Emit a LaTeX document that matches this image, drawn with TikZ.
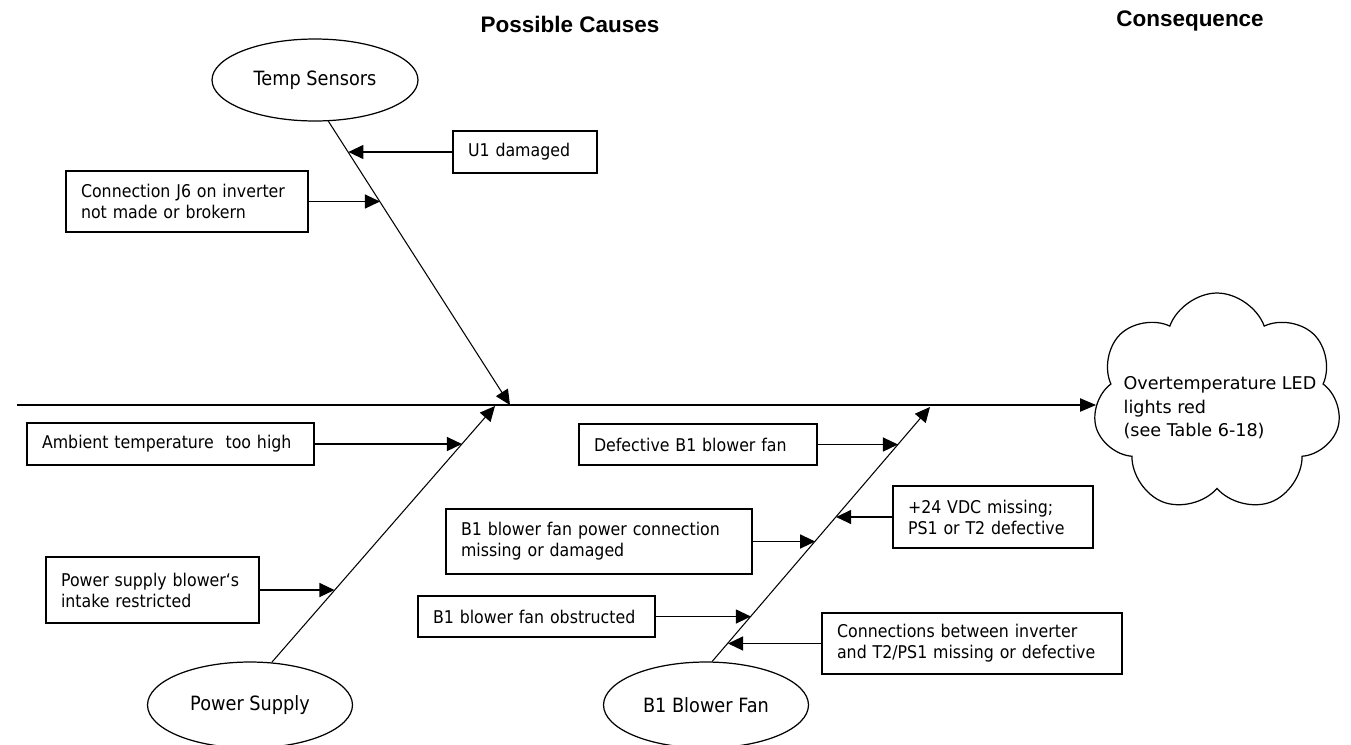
\documentclass[tikz,border=0pt]{standalone}
\usepackage{fontspec}
\setmainfont{DejaVu Sans}[FakeStretch=0.9]
\newfontfamily\titlefont{Liberation Sans}
\newfontfamily\cloudfont{DejaVu Sans}
\usetikzlibrary{shapes.geometric, shapes.symbols, arrows.meta, calc}
\tikzset{every node/.append style={align=center, inner sep=3pt}}

\begin{document}
\begin{tikzpicture}[
    x=0.02cm, y=-0.02cm,
    font=\fontsize{10}{12}\selectfont,
    cause/.style={rectangle, draw, line width=0.7pt, align=left,
        inner xsep=0.3cm, inner ysep=0pt},
    grp/.style={ellipse, draw, line width=0.7pt, minimum width=4.1cm,
        minimum height=1.72cm, inner sep=0pt, font=\fontsize{11.2}{13}\selectfont},
    eff/.style={cloud, draw, line width=0.7pt, cloud puffs=7, cloud puff arc=140,
        cloud ignores aspect, minimum width=4.96cm, minimum height=4.4cm, inner sep=0pt},
    a/.style={-{Triangle[length=0.3cm, width=0.28cm]}, line width=0.7pt},
    bone/.style={a, line width=0.6pt},
    spine/.style={-{Triangle[length=0.32cm, width=0.26cm]}, line width=1.1pt},
    ttl/.style={font=\titlefont\fontsize{12.8}{15}\selectfont\bfseries}
]
\useasboundingbox (0,0) rectangle (1351,744);
% ===== TITLES =====
\node[ttl] (causes) at (570,24)  {Possible Causes};
\node[ttl] (conseq) at (1190,21) {Consequence};
% ===== CATEGORIES =====
\node[grp, minimum width=4.12cm, minimum height=1.64cm] (temp) at (315,80) {Temp Sensors};
\node[grp] (psup) at (250,705) {Power Supply};
\node[grp] (fan)  at (706,705) {B1 Blower Fan};
% ===== EFFECT =====
\node[eff] (cons) at (1217,403) {};
\node[align=left, anchor=west, font=\cloudfont\fontsize{10}{13.4}\selectfont] (constext) at (1118,408)
    {Overtemperature LED\\lights red\\(see Table 6-18)};
% ===== CAUSES =====
\node[cause, text width=2.28cm, minimum height=0.84cm] (u1)   at (525,152)   {U1 damaged};
\node[cause, text width=4.24cm, minimum height=1.22cm] (j6)   at (187,201.5) {Connection J6 on inverter\\not made or brokern};
\node[cause, text width=5.14cm, minimum height=0.84cm] (amb)  at (170.5,444) {Ambient temperature\ \ too high};
\node[cause, text width=3.66cm, minimum height=1.32cm] (psb)  at (152.5,590) {Power supply blower‘s\\intake restricted};
\node[cause, text width=4.16cm, minimum height=0.82cm] (def)  at (698,444.5) {Defective B1 blower fan};
\node[cause, text width=3.40cm, minimum height=1.24cm] (vdc)  at (993,517)   {+24 VDC missing;\\PS1 or T2 defective};
\node[cause, text width=5.52cm, minimum height=1.30cm] (pwr)  at (599,541.5) {B1 blower fan power connection\\missing or damaged};
\node[cause, text width=4.14cm, minimum height=0.82cm] (obs)  at (536.5,616.5) {B1 blower fan obstructed};
\node[cause, text width=5.40cm, minimum height=1.22cm] (conn) at (972,643.5) {Connections between inverter\\and T2/PS1 missing or defective};
% ===== SPINE AND BONES =====
\coordinate (tail) at (17,405);
\coordinate (tj) at (510,405);
\coordinate (pj) at (495,406);
\coordinate (fj) at (930,407);
\draw[spine] (tail) -- (tail -| cons.west);
\draw[bone] (temp.-72) -- coordinate[pos=0.110] (t1) coordinate[pos=0.284] (t2) (tj);
\draw[bone] (psup.63) -- coordinate[pos=0.281] (p1) coordinate[pos=0.852] (p2) (pj);
\draw[bone] (fan.82) -- coordinate[pos=0.073] (f1) coordinate[pos=0.178] (f2)
    coordinate[pos=0.473] (f3) coordinate[pos=0.569] (f4) coordinate[pos=0.853] (f5) (fj);
% ===== CAUSE ARROWS =====
\draw[a] (u1.west) -- (u1.west -| t1);
\draw[a] (j6.east) -- (j6.east -| t2);
\draw[a] (psb.east) -- (psb.east -| p1);
\draw[a] (amb.east) -- (amb.east -| p2);
\draw[a] (conn.west) -- (conn.west -| f1);
\draw[a] (obs.east) -- (obs.east -| f2);
\draw[a] (pwr.east) -- (pwr.east -| f3);
\draw[a] (vdc.west) -- (vdc.west -| f4);
\draw[a] (def.east) -- (def.east -| f5);
\end{tikzpicture}
\end{document}
